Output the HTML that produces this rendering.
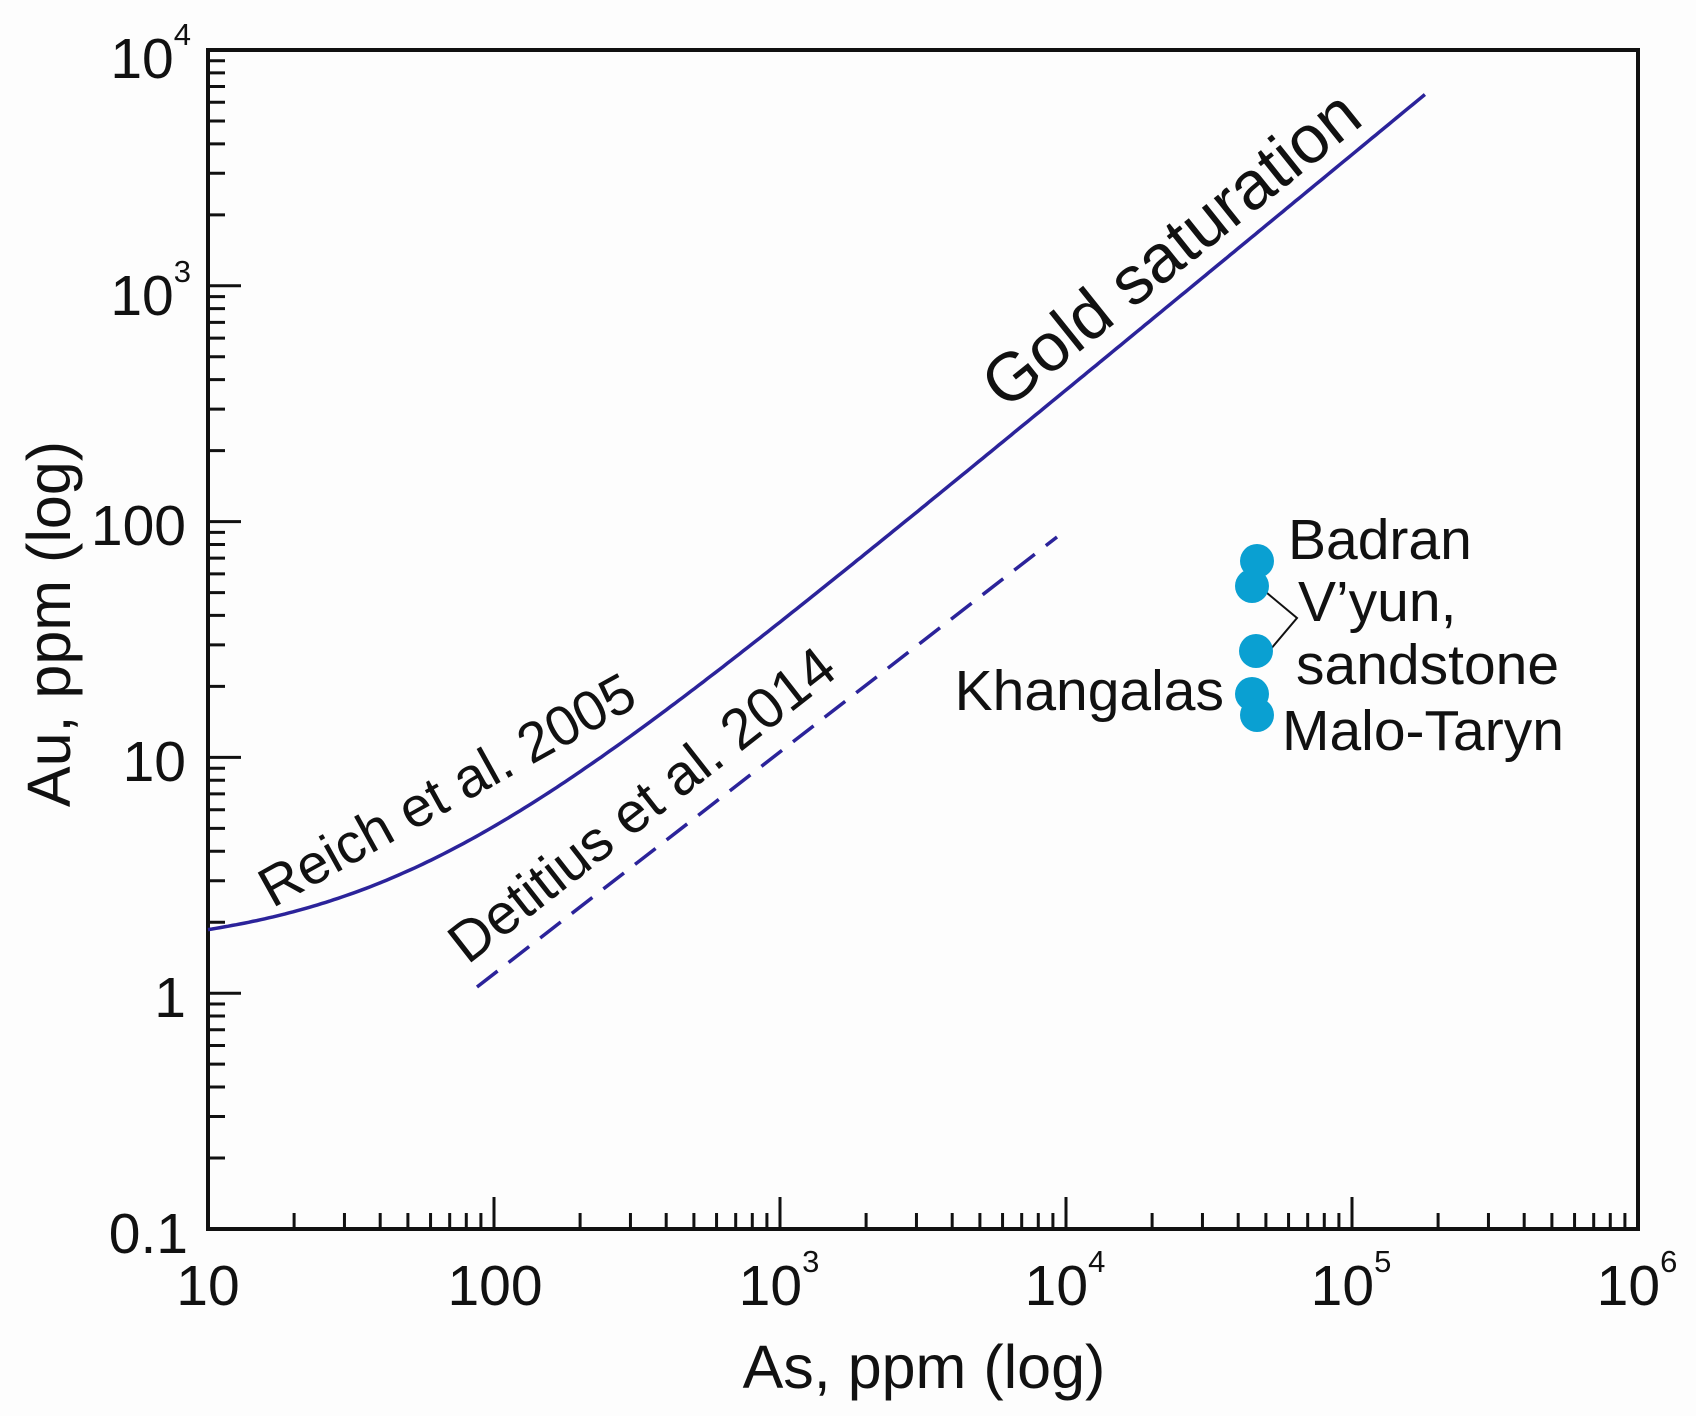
<!DOCTYPE html>
<html><head><meta charset="utf-8"><style>
html,body{margin:0;padding:0;background:#fdfdfd;}
svg{display:block;}
text{font-family:"Liberation Sans",Arial,sans-serif;fill:#111;}
</style></head><body>
<svg width="1696" height="1416" viewBox="0 0 1696 1416" xmlns="http://www.w3.org/2000/svg">
<rect width="1696" height="1416" fill="#fdfdfd"/>
<g id="ticks" stroke="#111" stroke-width="3"></g>
<rect x="208" y="50" width="1430" height="1179" fill="none" stroke="#111" stroke-width="4"/>
<path id="solid" fill="none" stroke="#2b239a" stroke-width="3.5"/>
<line x1="477" y1="987" x2="1057" y2="537" stroke="#2b239a" stroke-width="3.5" stroke-dasharray="26,14"/>
<polyline points="1267,593 1297,618 1270,650" fill="none" stroke="#111" stroke-width="2"/>
<g fill="#0aa0d2">
<circle cx="1257" cy="561" r="17"/><circle cx="1252" cy="586" r="17"/>
<circle cx="1256" cy="651" r="17"/><circle cx="1252" cy="694" r="17"/><circle cx="1257" cy="715" r="17"/>
</g>
<g font-size="57">
<text x="1288" y="559">Badran</text>
<text x="1298" y="621">V’yun,</text>
<text x="1296" y="684">sandstone</text>
<text x="1282" y="750">Malo-Taryn</text>
<text x="1224" y="710" text-anchor="end">Khangalas</text>
</g>
<text transform="translate(447,790) rotate(-29)" text-anchor="middle" dy="19" font-size="56">Reich et al. 2005</text>
<text transform="translate(642,805) rotate(-38)" text-anchor="middle" dy="19" font-size="57">Detitius et al. 2014</text>
<text transform="translate(1171,249) rotate(-38.7)" text-anchor="middle" dy="23" font-size="68">Gold saturation</text>
<g font-size="57" text-anchor="end">
<text x="191" y="78">10<tspan font-size="31" dy="-33">4</tspan></text>
<text x="191" y="315">10<tspan font-size="31" dy="-33">3</tspan></text>
<text x="186" y="545">100</text>
<text x="186" y="781">10</text>
<text x="186" y="1017">1</text>
<text x="188" y="1253">0.1</text>
</g>
<g font-size="57" text-anchor="middle">
<text x="208" y="1305">10</text>
<text x="495" y="1305">100</text>
<text x="779" y="1305">10<tspan font-size="31" dy="-33">3</tspan></text>
<text x="1065" y="1305">10<tspan font-size="31" dy="-33">4</tspan></text>
<text x="1351" y="1305">10<tspan font-size="31" dy="-33">5</tspan></text>
<text x="1637" y="1305">10<tspan font-size="31" dy="-33">6</tspan></text>
</g>
<text x="924" y="1388" font-size="61" text-anchor="middle">As, ppm (log)</text>
<text transform="translate(70,624) rotate(-90)" font-size="61" text-anchor="middle">Au, ppm (log)</text>
</svg>
<script>
(function(){
var ns="http://www.w3.org/2000/svg",g=document.getElementById("ticks");
var X0=208,X1=1638,Y0=1229,Y1=50;
function X(v){return X0+(X1-X0)/5*(Math.log10(v)-1);}
function Y(v){return Y0-(Y0-Y1)/5*(Math.log10(v)+1);}
function ln(a,b,c,d){var l=document.createElementNS(ns,"line");l.setAttribute("x1",a);l.setAttribute("y1",b);l.setAttribute("x2",c);l.setAttribute("y2",d);g.appendChild(l);}
for(var e=1;e<6;e++)for(var m=1;m<10;m++){var x=X(m*Math.pow(10,e));if(m==1){if(e>1)ln(x,Y0,x,Y0-32);}else ln(x,Y0,x,Y0-16);}
for(var e=-1;e<4;e++)for(var m=1;m<10;m++){var y=Y(m*Math.pow(10,e));if(m==1){if(e>-1)ln(X0,y,X0+33,y);}else ln(X0,y,X0+17,y);}
var d="";for(var i=0;i<=300;i++){var lx=1+i/300*4.255,as=Math.pow(10,lx),au=1.5+0.036*as;d+=(i?"L":"M")+X(as).toFixed(1)+","+Y(au).toFixed(1);}
document.getElementById("solid").setAttribute("d",d);
})();
</script>
</body></html>
